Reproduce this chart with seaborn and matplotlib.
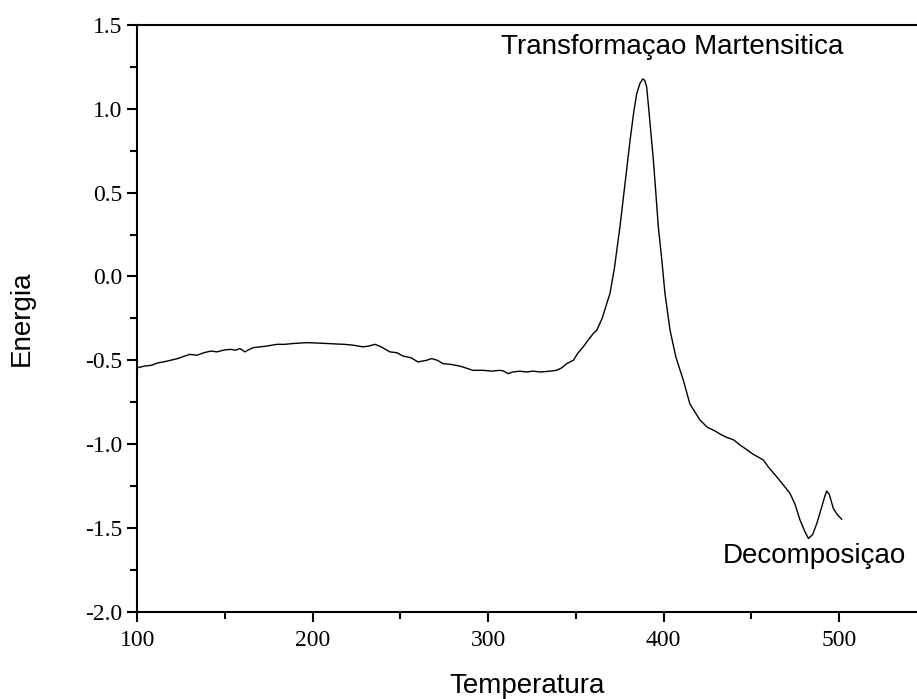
import matplotlib
matplotlib.use("Agg")
import matplotlib.pyplot as plt
import seaborn as sns
import pandas as pd
from matplotlib.ticker import MultipleLocator

temperatura = [100, 104, 108, 112, 115, 119, 123, 127, 130, 134, 138, 142, 145.4, 149, 153, 156, 158.5,
               161.4, 163, 166, 170, 174, 179.5, 184, 189, 196.5, 202, 208, 213.7, 218, 223, 228.7,
               232, 235.5, 239, 244, 248, 251.5, 256, 260, 265, 267.8, 271, 274.3, 279, 284, 291.4,
               297, 302, 306.8, 309, 311.4, 314, 318, 322, 325.6, 330, 335.3, 339, 342, 344.8,
               348.6, 351, 354.2, 357, 360, 362, 365, 369.5, 372, 375.2, 378, 380.9, 383,
               384.7, 386.5, 388.1, 389.3, 390.4, 392, 394.2, 395.6, 397, 399, 400.8, 403.7,
               407, 411.3, 415, 420.8, 425, 429, 433.2, 436, 440, 443.6, 447, 451, 456.9,
               460, 464.5, 468, 472.1, 475, 477.8, 480.5, 482.6, 485, 487.4, 490.2, 492, 493,
               494.5, 496.8, 499, 501.6]
energia = [-0.545, -0.535, -0.53, -0.515, -0.51, -0.5, -0.49, -0.475, -0.465, -0.47, -0.455, -0.445,
           -0.45, -0.44, -0.435, -0.44, -0.43, -0.45, -0.44, -0.425, -0.42, -0.415, -0.405, -0.405,
           -0.4, -0.395, -0.397, -0.4, -0.403, -0.405, -0.41, -0.42, -0.415, -0.405, -0.42, -0.45,
           -0.455, -0.475, -0.485, -0.51, -0.5, -0.49, -0.5, -0.52, -0.525, -0.535, -0.56, -0.56,
           -0.565, -0.56, -0.565, -0.58, -0.57, -0.565, -0.57, -0.565, -0.57, -0.565, -0.56, -0.545,
           -0.52, -0.5, -0.46, -0.42, -0.38, -0.34, -0.32, -0.25, -0.1, 0.05, 0.3, 0.55, 0.81,
           0.98, 1.09, 1.15, 1.178, 1.17, 1.13, 0.95, 0.695, 0.5, 0.3, 0.1, -0.1, -0.32, -0.48,
           -0.62, -0.76, -0.857, -0.9, -0.92, -0.946, -0.96, -0.975, -1.006, -1.03, -1.06, -1.095,
           -1.14, -1.195, -1.24, -1.294, -1.36, -1.453, -1.52, -1.563, -1.54, -1.473, -1.374,
           -1.31, -1.28, -1.3, -1.384, -1.42, -1.449]

x_ticks = [100, 200, 300, 400, 500]
y_ticks = [-2.0, -1.5, -1.0, -0.5, 0.0, 0.5, 1.0, 1.5]
y_tick_labels = ["-2.0", "-1.5", "-1.0", "-0.5", "0.0", "0.5", "1.0", "1.5"]

df = pd.DataFrame({"Temperatura": temperatura, "Energia": energia})

sns.set_style("ticks")
plt.rcParams["font.family"] = ["Liberation Sans", "DejaVu Sans"]
plt.rcParams["axes.unicode_minus"] = False
plt.rcParams["text.color"] = "black"
plt.rcParams["axes.labelcolor"] = "black"
plt.rcParams["xtick.color"] = "black"
plt.rcParams["ytick.color"] = "black"

fig = plt.figure(figsize=(9.17, 6.99), dpi=100)
left = 137.3 / 917
bottom = 1 - 611.7 / 699
top = 1 - 25 / 699
ax = fig.add_axes([left, bottom, 1.0 - left, top - bottom])

sns.lineplot(data=df, x="Temperatura", y="Energia", ax=ax, color="black", linewidth=1.0,
             sort=False, estimator=None)

ax.set_xlim(100, 544.5)
ax.set_ylim(-2.0, 1.5)
ax.xaxis.set_minor_locator(MultipleLocator(50))
ax.yaxis.set_minor_locator(MultipleLocator(0.25))
ax.set_yticks(y_ticks)
ax.set_yticklabels(y_tick_labels)
ax.set_xticks(x_ticks)
ax.set_xticklabels([str(v) for v in x_ticks])

for lab in ax.get_xticklabels() + ax.get_yticklabels():
    lab.set_fontfamily("Liberation Serif")
    lab.set_fontsize(17)
    lab.set_color("black")

ax.tick_params(which="major", direction="out", length=7, width=1.5, colors="black", pad=4)
ax.tick_params(axis="x", which="major", pad=6)
ax.tick_params(which="minor", direction="out", length=5, width=1.5, colors="black")

for s in ["left", "bottom", "top"]:
    ax.spines[s].set_linewidth(1.5)
    ax.spines[s].set_color("black")
ax.spines["right"].set_visible(False)

ax.set_xlabel("Temperatura", fontsize=20, labelpad=16, color="black")
ax.set_ylabel("Energia", fontsize=20, labelpad=36, color="black")

ax.text(405, 1.369, "Transformaçao Martensitica", fontsize=20, ha="center", va="center", color="black")
ax.text(486, -1.668, "Decomposiçao", fontsize=20, ha="center", va="center", color="black")

fig.savefig("out.png", dpi=100)
